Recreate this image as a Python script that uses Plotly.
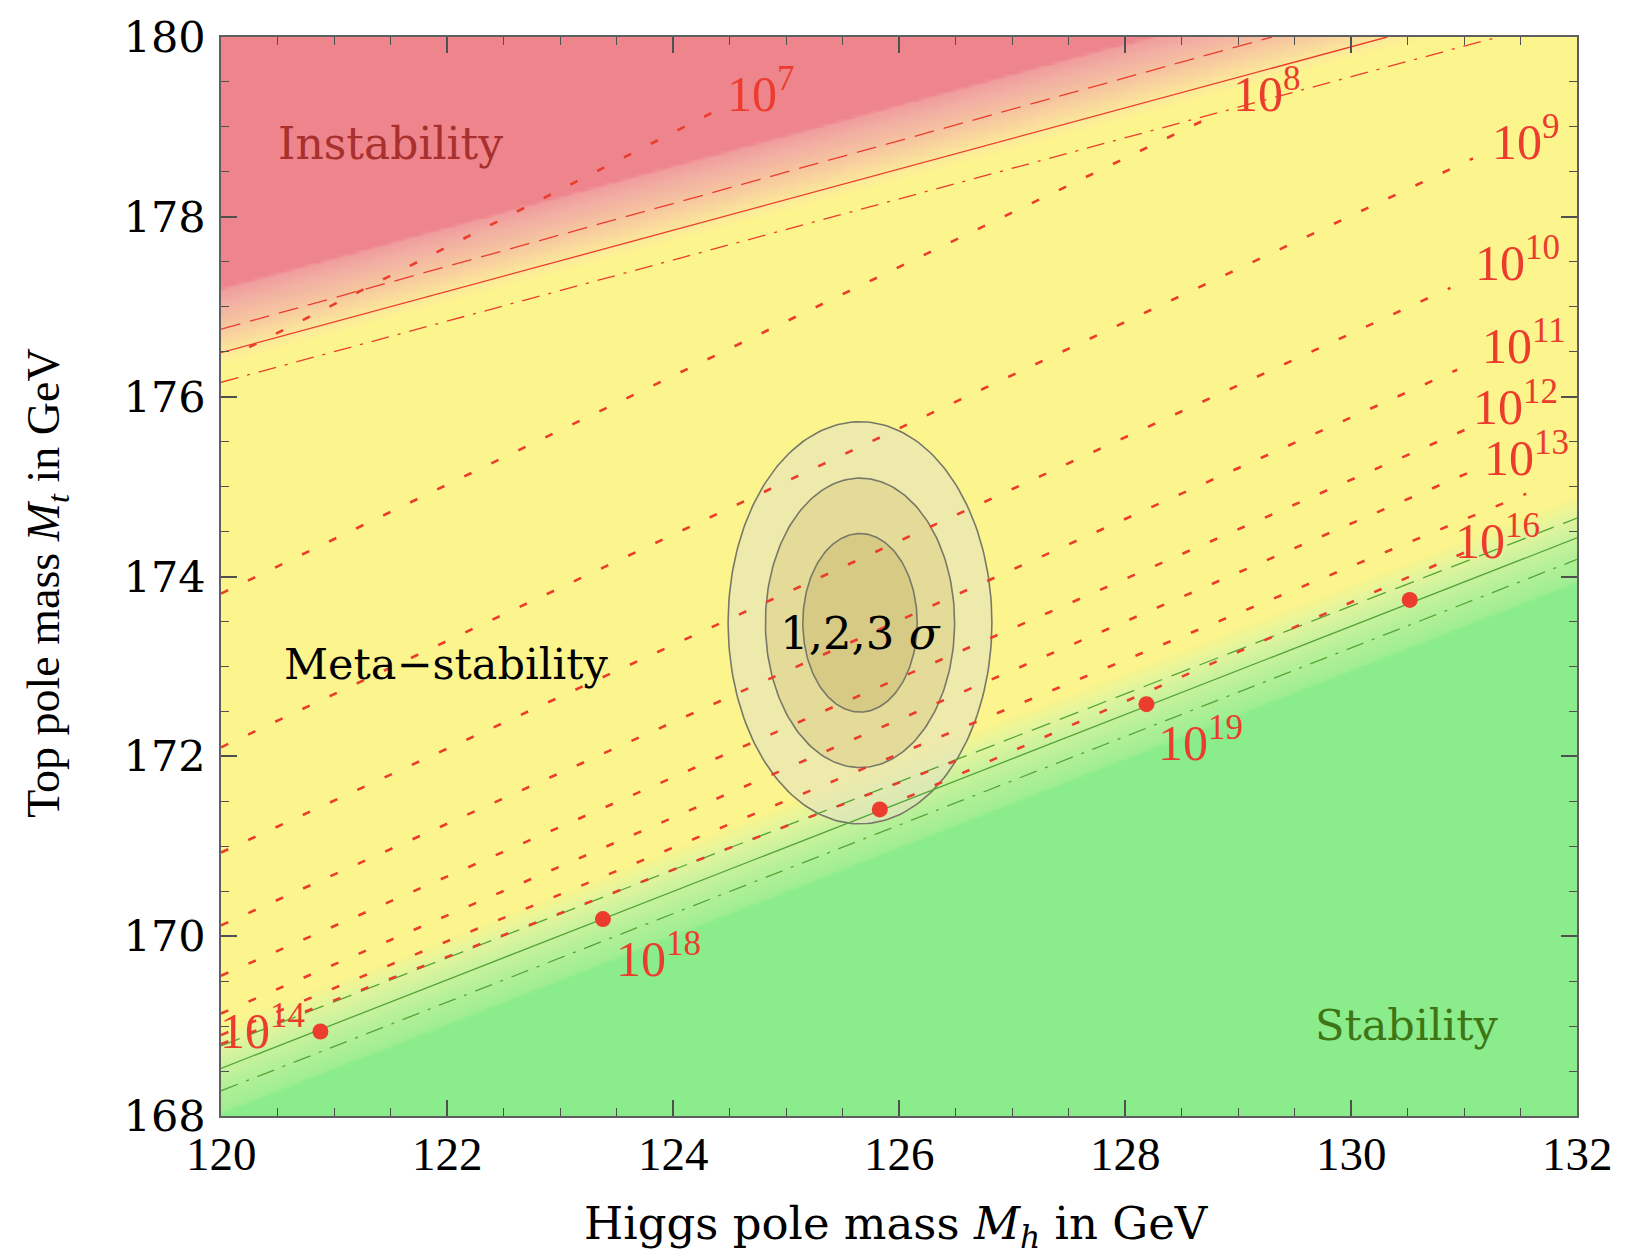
import numpy as np
import plotly.graph_objects as go

# ---------------- data ----------------
x_range = [120, 132]
y_range = [168, 180]
x_ticks = [120, 122, 124, 126, 128, 130, 132]
y_ticks = [168, 170, 172, 174, 176, 178, 180]

# instability boundary (red) : solid + two dashed uncertainty lines
instab_solid_mh = [120.0, 130.32]
instab_solid_mt = [176.49, 180.0]
instab_upper_mh = [120.0, 129.3]
instab_upper_mt = [176.75, 180.0]
instab_lower_mh = [120.0, 131.3]
instab_lower_mt = [176.16, 180.0]

# stability boundary (green) : solid + two dashed uncertainty lines
stab_solid_mh = [120.0, 132.0]
stab_solid_mt = [168.53, 174.43]
stab_upper_mh = [120.0, 132.0]
stab_upper_mt = [168.78, 174.65]
stab_lower_mh = [120.0, 132.0]
stab_lower_mt = [168.28, 174.19]

# colour transition widths (GeV in Mt, relative to the solid lines)
red_band = [-0.15, 0.72]
green_band = [-0.5, 0.5]

# dotted contours of the instability scale (start / end points)
contour_scale = ["1e7", "1e8", "1e9", "1e10", "1e11", "1e12", "1e13", "1e14", "1e16", "extra"]
contour_mh0 = [120.25, 120.0, 120.0, 120.0, 120.0, 120.0, 120.0, 120.0, 125.83, 120.0]
contour_mt0 = [176.55, 173.81, 172.10, 170.93, 170.12, 169.56, 169.14, 168.90, 171.41, 168.80]
contour_mh1 = [124.35, 128.79, 131.08, 130.88, 130.94, 131.06, 131.05, 131.55, 131.10, 126.5]
contour_mt1 = [179.16, 179.13, 178.65, 177.21, 176.30, 175.66, 175.16, 174.92, 174.32, 171.95]

# scale labels
label_text = ["10<sup>7</sup>", "10<sup>8</sup>", "10<sup>9</sup>", "10<sup>10</sup>",
              "10<sup>11</sup>", "10<sup>12</sup>", "10<sup>13</sup>", "10<sup>16</sup>",
              "10<sup>14</sup>", "10<sup>18</sup>", "10<sup>19</sup>"]
label_mh = [124.78, 129.26, 131.55, 131.47, 131.53, 131.46, 131.55, 131.30, 120.37, 123.87, 128.67]
label_mt = [179.40, 179.40, 178.87, 177.52, 176.60, 175.92, 175.36, 174.43, 168.98, 169.78, 172.19]

# red dots on the stability line
dot_mh = [120.88, 123.38, 125.83, 128.19, 130.52]
dot_mt = [168.94, 170.19, 171.41, 172.58, 173.74]

# experimental 1,2,3 sigma ellipses
ell_center = [125.655, 173.485]
ell_rx = [1.167, 0.837, 0.506]
ell_ry = [2.236, 1.609, 0.993]
ell_fill = ["rgba(228,226,192,0.6)", "rgba(200,180,100,0.28)", "rgba(180,160,80,0.27)"]

# region labels
region_text = ["Instability", "Meta\u2212stability", "Stability", "1,2,3 <i>\u03c3</i>"]
region_mh = [121.50, 121.99, 130.49, 125.66]
region_mt = [178.82, 173.03, 169.01, 173.37]
region_color = ["rgb(168,48,45)", "black", "rgb(62,118,22)", "black"]
region_size = [44, 43, 43, 45]

# ---------------- figure ----------------
RED = "rgb(235,60,45)"
GREEN = "rgb(85,165,55)"


def line_at(mh, xs, ys):
    return ys[0] + (ys[1] - ys[0]) / (xs[1] - xs[0]) * (mh - xs[0])


mh_grid = np.linspace(x_range[0], x_range[1], 241)
mt_grid = np.linspace(y_range[0], y_range[1], 241)
MH, MT = np.meshgrid(mh_grid, mt_grid)
t_r = MT - line_at(MH, instab_solid_mh, instab_solid_mt)
t_g = MT - line_at(MH, stab_solid_mh, stab_solid_mt)
s = np.full_like(MH, 0.5)
gm = t_g < green_band[1]
s[gm] = np.clip(0.45 * (t_g[gm] - green_band[0]) / (green_band[1] - green_band[0]), 0, 0.45)
rm = t_r > red_band[0]
s[rm] = np.clip(0.55 + 0.45 * (t_r[rm] - red_band[0]) / (red_band[1] - red_band[0]), 0.55, 1.0)

colorscale = [
    [0.0, "rgb(138,236,138)"],
    [0.015, "rgb(160,238,146)"],
    [0.15, "rgb(182,240,152)"],
    [0.25, "rgb(204,242,158)"],
    [0.35, "rgb(228,245,156)"],
    [0.45, "rgb(252,244,140)"],
    [0.55, "rgb(252,244,140)"],
    [0.6, "rgb(252,238,152)"],
    [0.68, "rgb(250,220,156)"],
    [0.78, "rgb(246,198,160)"],
    [0.9, "rgb(242,176,162)"],
    [0.985, "rgb(240,158,158)"],
    [1.0, "rgb(238,132,140)"],
]

fig = go.Figure()
fig.add_trace(go.Heatmap(x=mh_grid, y=mt_grid, z=s, zmin=0, zmax=1, zsmooth="best",
                         colorscale=colorscale, showscale=False, hoverinfo="skip"))

# ellipses
theta = np.linspace(0, 2 * np.pi, 200)
for rx, ry, fc in zip(ell_rx, ell_ry, ell_fill):
    fig.add_trace(go.Scatter(x=ell_center[0] + rx * np.cos(theta),
                             y=ell_center[1] + ry * np.sin(theta),
                             mode="lines", fill="toself", fillcolor=fc,
                             line=dict(color="rgb(120,120,105)", width=1.6),
                             hoverinfo="skip", showlegend=False))

# boundary lines
for xs, ys, col, dash in [
    (instab_upper_mh, instab_upper_mt, RED, "20px,10px"),
    (instab_solid_mh, instab_solid_mt, RED, "solid"),
    (instab_lower_mh, instab_lower_mt, RED, "18px,9px,3px,9px"),
    (stab_upper_mh, stab_upper_mt, GREEN, "20px,10px"),
    (stab_solid_mh, stab_solid_mt, GREEN, "solid"),
    (stab_lower_mh, stab_lower_mt, GREEN, "18px,9px,3px,9px"),
]:
    fig.add_trace(go.Scatter(x=xs, y=ys, mode="lines",
                             line=dict(color=col, width=1.3, dash=dash),
                             hoverinfo="skip", showlegend=False))

# dotted instability-scale contours
for x0, y0, x1, y1 in zip(contour_mh0, contour_mt0, contour_mh1, contour_mt1):
    fig.add_trace(go.Scatter(x=[x0, x1], y=[y0, y1], mode="lines",
                             line=dict(color=RED, width=2.6, dash="8px,22px"),
                             hoverinfo="skip", showlegend=False))

# dots
fig.add_trace(go.Scatter(x=dot_mh, y=dot_mt, mode="markers",
                         marker=dict(color=RED, size=16, line=dict(width=0)),
                         hoverinfo="skip", showlegend=False))

annotations = []
for t, x, y in zip(label_text, label_mh, label_mt):
    annotations.append(dict(x=x, y=y, xref="x", yref="y", text=t, showarrow=False,
                            font=dict(family="Liberation Serif", size=50, color=RED),
                            xanchor="center", yanchor="middle"))
for t, x, y, c, sz in zip(region_text, region_mh, region_mt, region_color, region_size):
    annotations.append(dict(x=x, y=y, xref="x", yref="y", text=t, showarrow=False,
                            font=dict(family="DejaVu Serif", size=sz, color=c),
                            xanchor="center", yanchor="middle"))

# x tick labels (placed just below the frame)
for v in x_ticks:
    annotations.append(dict(x=v, y=-0.035, xref="x", yref="paper", text=str(v),
                            showarrow=False, xanchor="center", yanchor="middle",
                            font=dict(family="Liberation Serif", size=47, color="black")))

# axis titles
annotations.append(dict(x=0.498, y=-0.1024, xref="paper", yref="paper",
                        text="Higgs pole mass <i>M</i><sub><i>h</i></sub> in GeV",
                        showarrow=False, xanchor="center", yanchor="middle",
                        font=dict(family="DejaVu Serif", size=45, color="black")))
annotations.append(dict(x=-0.128, y=0.4945, xref="paper", yref="paper",
                        text="Top pole mass <i>M</i><sub><i>t</i></sub> in GeV",
                        showarrow=False, xanchor="center", yanchor="middle", textangle=-90,
                        font=dict(family="Liberation Serif", size=46, color="black")))

axis_common = dict(showgrid=False, zeroline=False, showline=True, linecolor="rgb(95,95,95)",
                   linewidth=1.5, mirror="allticks", ticks="inside", ticklen=16,
                   tickwidth=1.5, tickcolor="rgb(80,80,80)")

fig.update_layout(
    width=1626, height=1255,
    margin=dict(l=221, r=49, t=32, b=139),
    paper_bgcolor="white", plot_bgcolor="white",
    showlegend=False,
    annotations=annotations,
    xaxis=dict(range=x_range, tickvals=x_ticks, showticklabels=False,
               minor=dict(tick0=120, dtick=0.5, ticks="inside", ticklen=8,
                          tickwidth=1.2, tickcolor="rgb(80,80,80)"),
               **axis_common),
    yaxis=dict(range=y_range, tickvals=y_ticks, ticktext=[str(v) for v in y_ticks],
               tickfont=dict(family="DejaVu Serif", size=43, color="black"),
               ticklabelstandoff=5,
               minor=dict(tick0=168, dtick=0.5, ticks="inside", ticklen=8,
                          tickwidth=1.2, tickcolor="rgb(80,80,80)"),
               **axis_common),
)

fig.write_html("out.html")
